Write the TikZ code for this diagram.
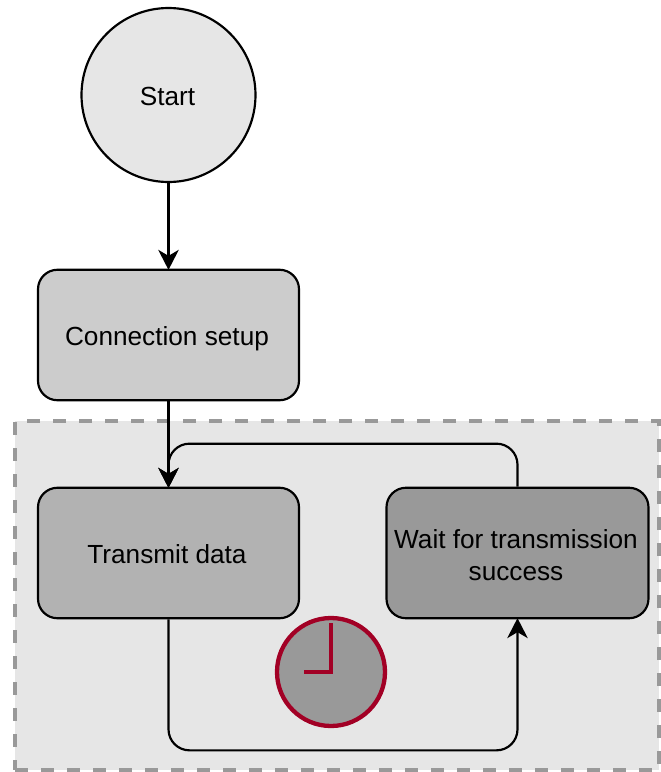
\documentclass[tikz,border=0pt]{standalone}
\usepackage{fontspec}
\setmainfont{Liberation Sans}
\usetikzlibrary{arrows.meta}
\definecolor{groupfill}{HTML}{E6E6E6}
\definecolor{groupline}{HTML}{999999}
\definecolor{clockline}{HTML}{A20025}
\newcommand{\nudge}{\hspace*{3pt}}
\tikzset{
  x=1pt,y=-1pt,
  flowline/.style={line width=2.17pt,draw=black},
  flowfont/.style={font=\fontsize{26.2}{31.5}\selectfont},
  flowbox/.style={flowline,flowfont,rectangle,rounded corners=19.5pt,minimum width=261pt,minimum height=130.5pt,inner sep=0pt,align=center},
  oneline/.style={text height=24.5pt,text depth=4.5pt},
  flowarrow/.style={line width=2.17pt,rounded corners=21pt,shorten >=-1.2pt,-{Stealth[length=20pt,width=20.5pt,inset=6pt]}},
}
\begin{document}
\begin{tikzpicture}
\useasboundingbox (0,0) rectangle (661,772);
\node[draw=groupline,fill=groupfill,line width=4.3pt,dash pattern=on 13pt off 13pt,rectangle,minimum width=644pt,minimum height=349pt,inner sep=0pt] (group) at (337,595.5) {};
\node[flowline,flowfont,oneline,circle,fill=groupfill,minimum size=174pt,inner sep=0pt] (start) at (168.5,95) {Start\kern2pt};
\node[flowbox,oneline,fill=black!20] (setup) at (168.5,335) {Connection setup\nudge};
\node[flowbox,oneline,fill=black!30] (transmit) at (168.5,553) {Transmit data\nudge};
\node[flowbox,minimum width=262pt,fill=groupline] (wait) at (517.5,553) {\rule{0pt}{23pt}Wait for transmission\nudge\\success\nudge};
\node[circle,draw=clockline,fill=groupline,line width=4.3pt,minimum size=108pt,inner sep=0pt] (clock) at (331,672) {};
\draw[draw=clockline,line width=4.3pt] ([yshift=49pt]clock.center) -- (clock.center) -- ([xshift=-27pt]clock.center);
\draw[flowarrow] (start) -- (setup);
\draw[flowarrow] (setup) -- (transmit);
\draw[flowarrow] (wait.north) -- ++(0,-43) -| (transmit.north);
\draw[flowarrow] (transmit.south) -- ++(0,131) -| (wait.south);
\end{tikzpicture}
\end{document}
